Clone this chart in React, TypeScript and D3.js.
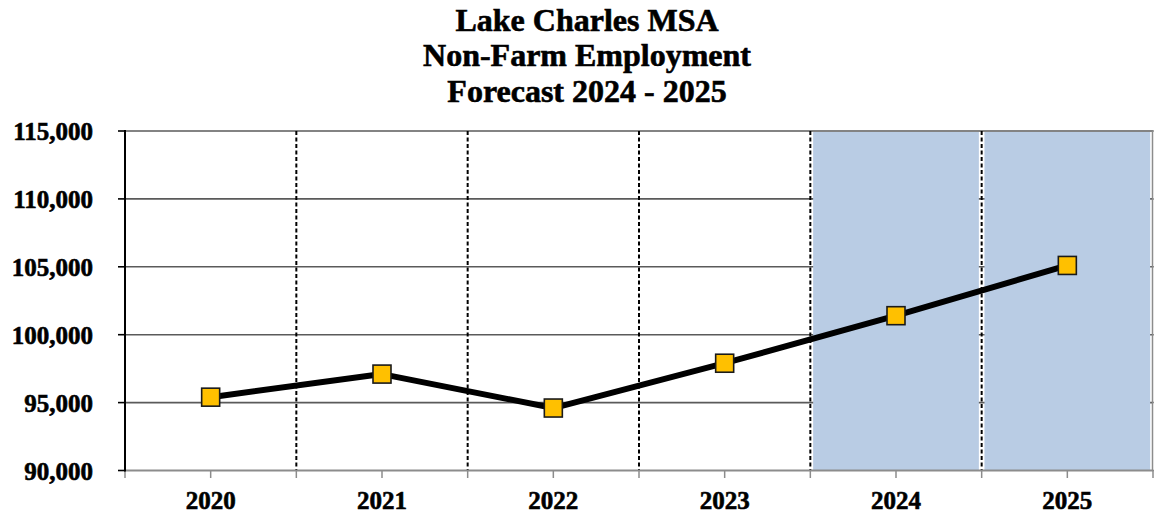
import React from "react";
import * as d3 from "d3";

const years = ["2020", "2021", "2022", "2023", "2024", "2025"];
const employment = [95400, 97100, 94600, 97900, 101400, 105100];
const forecastYears = ["2024", "2025"];
const yTicks = [90000, 95000, 100000, 105000, 110000, 115000];
const titleLines = ["Lake Charles MSA", "Non-Farm Employment", "Forecast 2024 - 2025"];

const W = 1154;
const H = 514;
const margin = { left: 125, right: 1153, top: 131, bottom: 470.5 };
const FONT = "'Liberation Serif', 'Times New Roman', serif";

// slightly heavier bold text
const textStroke = { stroke: "#000", strokeWidth: 0.6 };

export default function App() {
  const x = d3.scaleBand<string>().domain(years).range([margin.left, margin.right]);
  const y = d3.scaleLinear().domain([90000, 115000]).range([margin.bottom, margin.top]);
  const fmt = d3.format(",");
  const bw = x.bandwidth();
  const cx = (yr: string) => (x(yr) as number) + bw / 2;

  const line = d3
    .line<number>()
    .x((_, i) => cx(years[i]))
    .y((d) => y(d));

  // category boundaries (interior ones get dashed separators)
  const bounds = years.map((yr) => x(yr) as number).concat([margin.right]);
  const interior = bounds.slice(1, -1);
  const centres = years.map(cx);

  const markerSize = 18;

  return (
    <svg
      width={W}
      height={H}
      style={{ position: "absolute", left: 0, top: 0, background: "#fff" }}
      fontFamily={FONT}
    >
      {/* title */}
      {titleLines.map((t, i) => (
        <text
          key={t}
          x={587}
          y={30.5 + i * 35.5}
          textAnchor="middle"
          fontWeight="bold"
          fontSize={32}
          fill="#000"
          {...textStroke}
        >
          {t}
        </text>
      ))}

      {/* horizontal gridlines */}
      {yTicks.slice(1).map((v) => (
        <line
          key={v}
          x1={margin.left}
          x2={margin.right}
          y1={y(v)}
          y2={y(v)}
          stroke="#5a5a5a"
          strokeWidth={1.6}
        />
      ))}

      {/* forecast shading */}
      {forecastYears.map((yr) => (
        <rect
          key={yr}
          x={(x(yr) as number) + 2.8}
          y={margin.top + 1}
          width={bw - 5.6}
          height={margin.bottom - margin.top - 1}
          fill="#b9cce4"
        />
      ))}

      {/* right frame line with small ticks */}
      <line
        x1={margin.right - 0.5}
        x2={margin.right - 0.5}
        y1={margin.top}
        y2={margin.bottom}
        stroke="#8c8c8c"
        strokeWidth={1.5}
      />
      {yTicks.map((v) => (
        <line
          key={"r" + v}
          x1={margin.right - 0.5}
          x2={margin.right + 3}
          y1={y(v)}
          y2={y(v)}
          stroke="#8c8c8c"
          strokeWidth={1.5}
        />
      ))}

      {/* dashed separators */}
      {interior.map((bx, i) => (
        <line
          key={"d" + i}
          x1={bx}
          x2={bx}
          y1={margin.top}
          y2={margin.bottom}
          stroke="#000"
          strokeWidth={2}
          strokeDasharray="4,2.5"
        />
      ))}

      {/* x axis */}
      <line
        x1={margin.left}
        x2={margin.right}
        y1={margin.bottom}
        y2={margin.bottom}
        stroke="#8c8c8c"
        strokeWidth={2}
      />
      {bounds.concat(centres).map((tx, i) => (
        <line
          key={"xt" + i}
          x1={tx}
          x2={tx}
          y1={margin.bottom}
          y2={margin.bottom + 7.5}
          stroke="#8c8c8c"
          strokeWidth={1.5}
        />
      ))}
      {years.map((yr) => (
        <text
          key={"xl" + yr}
          x={cx(yr)}
          y={508.5}
          textAnchor="middle"
          fontWeight="bold"
          fontSize={25}
          fill="#000"
          {...textStroke}
        >
          {yr}
        </text>
      ))}

      {/* y axis */}
      <line
        x1={margin.left}
        x2={margin.left}
        y1={margin.top - 1}
        y2={margin.bottom + 1}
        stroke="#000"
        strokeWidth={2}
      />
      {yTicks.map((v) => (
        <g key={"yt" + v}>
          <line
            x1={margin.left - 7}
            x2={margin.left}
            y1={y(v)}
            y2={y(v)}
            stroke="#000"
            strokeWidth={1.6}
          />
          <text
            x={93}
            y={y(v)}
            dy="0.36em"
            textAnchor="end"
            fontWeight="bold"
            fontSize={25}
            fill="#000"
            {...textStroke}
          >
            {fmt(v)}
          </text>
        </g>
      ))}

      {/* series line */}
      <path
        d={line(employment) as string}
        fill="none"
        stroke="#000"
        strokeWidth={6}
        strokeLinejoin="round"
      />

      {/* markers */}
      {employment.map((v, i) => (
        <rect
          key={"m" + i}
          x={cx(years[i]) - markerSize / 2}
          y={y(v) - markerSize / 2}
          width={markerSize}
          height={markerSize}
          fill="#ffc000"
          stroke="#1a1a1a"
          strokeWidth={1.6}
        />
      ))}
    </svg>
  );
}
